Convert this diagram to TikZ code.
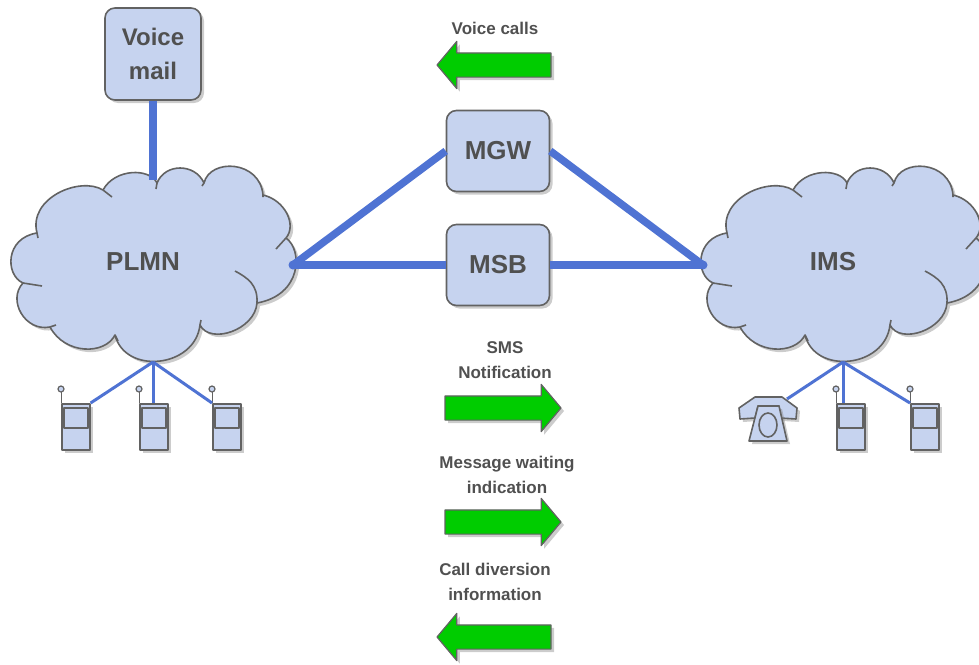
\documentclass[tikz,border=0pt]{standalone}
\usepackage{fontspec}
\setmainfont{Liberation Sans}
\usetikzlibrary{shadows,shapes.arrows}
\definecolor{netfill}{HTML}{C6D3EF}
\definecolor{netedge}{HTML}{626262}
\definecolor{netline}{HTML}{4F73D3}
\definecolor{netgreen}{HTML}{00CC00}
\definecolor{nettext}{HTML}{505050}
\tikzset{
  softshadow/.style={drop shadow={opacity=.4,shadow xshift=3pt,shadow yshift=-3pt}},
  netshape/.style={draw=netedge,line width=1.6pt,fill=netfill,softshadow},
  netbox/.style={netshape,rounded corners=10pt,inner sep=0,minimum width=103,minimum height=81,
    text=nettext,font=\fontsize{26}{34}\selectfont\bfseries,align=center},
  biglink/.style={netline,line width=7.5pt},
  thinlink/.style={netline,line width=3pt},
  flowarrow/.style={single arrow,draw=netedge,line width=1.2pt,fill=netgreen,softshadow,inner sep=11.5pt,
    outer sep=0,minimum width=46,single arrow head extend=11.5pt,single arrow tip angle=100,anchor=tip},
  flowtext/.style={text=nettext,font=\fontsize{17}{24.5}\selectfont\bfseries,align=center,inner sep=0},
  netcloud/.pic={
    \path[netshape] (157,183) .. controls (165,163) and (195,163) .. (204,183)
      .. controls (210,158) and (260,160) .. (263,195)
      .. controls (285,200) and (297,225) .. (286,238)
      .. controls (303,250) and (302,295) .. (257,303)
      .. controls (255,330) and (210,345) .. (200,325)
      .. controls (195,368) and (125,375) .. (115,335)
      .. controls (105,355) and (65,355) .. (50,327)
      .. controls (25,332) and (7,300) .. (23,283)
      .. controls (5,275) and (5,238) .. (37,233)
      .. controls (28,198) and (80,176) .. (103,190)
      .. controls (115,168) and (150,168) .. (157,183) -- cycle;
    \draw[netedge,line width=1.6pt] (157,183) -- (156,189) (204,183) -- (202,186) (263,195) -- (263,197)
      (286,238) -- (276,249) (257,303) .. controls (258,285) and (248,278) .. (235,271)
      (115,335) -- (118,341) (50,327) -- (56,325) (23,283) -- (42,286) (37,233) -- (38,238)
      (103,190) -- (112,197) (200,325) -- (201,320);
    \node[text=nettext,font=\fontsize{26}{30}\selectfont\bfseries] (-label) at (143,262) {#1};
    \coordinate (-top) at (153,180);
    \coordinate (-bottom) at (153,362);
    \coordinate (-side) at (293,265);
    \coordinate (-left) at (13,265);
  },
  handset/.pic={
    \draw[netedge,line width=1pt] (0,0) -- (0,-11);
    \draw[netedge,line width=1.2pt,fill=netfill] (0,-14) circle(3);
    \node[netshape,rectangle,inner sep=0,minimum width=28,minimum height=46,anchor=north west] (-body) at (0,0) {};
    \node[draw=netedge,line width=1.6pt,fill=netfill,inner sep=0,minimum width=24,minimum height=20,anchor=north west,
      drop shadow={opacity=.3,shadow xshift=1pt,shadow yshift=-1pt}] (-screen) at (2,4) {};
  },
  deskphone/.pic={
    \path[netshape] (-29,-12) -- (-13,-23) -- (14,-23) -- (29,-12) -- (28,-1) -- (12,-2) -- (11,-14) -- (-10,-14) -- (-13,-2) -- (-28,-1) -- cycle;
    \path[netshape] (-10,-14) -- (-19,21) -- (19,21) -- (11,-14) -- cycle;
    \draw[netedge,line width=1.6pt,fill=netfill] (0,5) ellipse(9 and 12);
    \coordinate (-port) at (19,-21);
  }
}
\begin{document}
\begin{tikzpicture}[line join=round,x=1pt,y=-1pt]
\clip (0,0) rectangle (979,664);
% clouds
\pic (plmn) at (0,0) {netcloud=PLMN};
\pic (ims) at (690,0) {netcloud=IMS};
% boxes
\node[netbox,minimum width=96,minimum height=92,font=\fontsize{24}{34}\selectfont\bfseries] (vmail) at (153,54) {Voice\\mail};
\node[netbox] (mgw) at (498,151) {MGW};
\node[netbox] (msb) at (498,265) {MSB};
% terminals
\foreach \n/\x in {hs1/61,hs2/139,hs3/212,hs4/836,hs5/910}{\pic (\n) at (\x,403) {handset};}
\pic (tel) at (768,420) {deskphone};
% links
\draw[biglink] (vmail.south -| plmn-top) -- (plmn-top);
\draw[biglink] (mgw.west) -- (plmn-side);
\draw[biglink] (mgw.east) -- (ims-left);
\draw[biglink] (msb.west) -- (plmn-side);
\draw[biglink] (msb.east) -- (ims-left);
\fill[netline] (plmn-side) circle(4.5) (ims-left) circle(4.5);
\draw[thinlink] (plmn-bottom) -- (hs1-body.north east);
\draw[thinlink] (plmn-bottom) -- (plmn-bottom |- hs2-body.north);
\draw[thinlink] (plmn-bottom) -- (hs3-body.north west);
\draw[thinlink] (ims-bottom) -- (tel-port);
\draw[thinlink] (ims-bottom) -- (ims-bottom |- hs4-body.north);
\draw[thinlink] (ims-bottom) -- (hs5-body.north west);
% flows
\foreach \n/\x/\y/\r/\l in {avoice/437/65/180/114,asms/561/408/0/116,amsg/561/522/0/116,adiv/437/637/180/114}{
  \node[flowarrow,minimum height=\l,shape border rotate=\r] (\n) at (\x,\y) {};}
\foreach \n/\x/\y/\t in {tvoice/495/28/Voice calls,tsms/505/360/SMS\\Notification,tmsg/507/475/Message waiting\\indication,tdiv/495/582/Call diversion\\information}{
  \node[flowtext] (\n) at (\x,\y) {\t};}
\end{tikzpicture}
\end{document}
